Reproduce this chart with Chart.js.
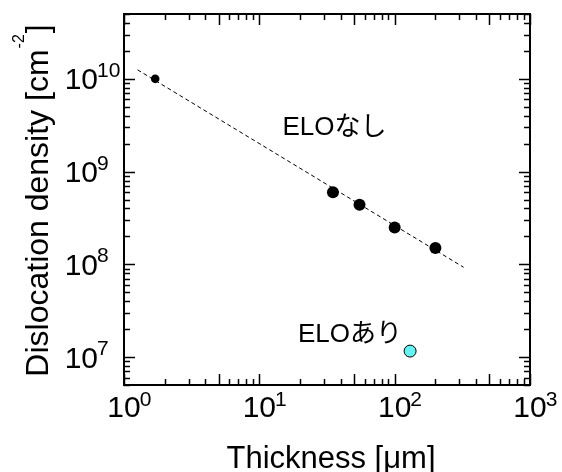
<!DOCTYPE html>
<html><head><meta charset="utf-8">
<script src="https://cdn.jsdelivr.net/npm/chart.js@4/dist/chart.umd.min.js"></script>
<style>html,body{margin:0;padding:0;background:#fff}#wrap{width:562px;height:472px}</style>
</head><body><div id="wrap"><canvas id="c" width="562" height="472"></canvas></div>
<script>
// ---- data ----
const xTickExponents = [0, 1, 2, 3];
const yTickExponents = [7, 8, 9, 10];
const thicknessNoELO = [1.7, 35, 55, 100, 200];
const densityNoELO = [1.0e10, 6.0e8, 4.4e8, 2.5e8, 1.5e8];
const thicknessELO = [130];
const densityELO = [1.16e7];
const fitThickness = [1.26, 323];
const fitDensity = [1.25e10, 9.3e7];
const annotationTexts = ['ELOなし', 'ELOあり'];
const annotationX = [14.8, 19.3];
const annotationY = [2.49e9, 1.46e7];
const xTitle = 'Thickness [μm]';
const yTitleMain = 'Dislocation density [cm';
const yTitleSup = '-2';
const yTitleEnd = ']';

const toPts = (xs, ys) => xs.map((v, i) => ({x: v, y: ys[i]}));
const FONT = '"Liberation Sans", Arial, "Noto Sans CJK JP", sans-serif';

const axesPlugin = {
  id: 'customAxes',
  afterDatasetsDraw(chart) {
    const {ctx, chartArea: a, scales: {x, y}} = chart;
    ctx.save();
    ctx.strokeStyle = '#000';
    ctx.fillStyle = '#000';
    ctx.lineWidth = 2;
    ctx.strokeRect(a.left, a.top, a.right - a.left, a.bottom - a.top);
    ctx.lineWidth = 1.5;
    ctx.beginPath();
    // x ticks
    const xe0 = xTickExponents[0], xe1 = xTickExponents[xTickExponents.length - 1];
    for (let e = xe0; e <= xe1; e++) {
      for (let m = 1; m <= 9; m++) {
        const v = m * Math.pow(10, e);
        if (v > Math.pow(10, xe1) + 1e-9) break;
        const px = Math.round(x.getPixelForValue(v)) + 0.5;
        const len = (m === 1 || m === 5) ? 11 : 6;
        ctx.moveTo(px, a.bottom); ctx.lineTo(px, a.bottom - len);
        ctx.moveTo(px, a.top); ctx.lineTo(px, a.top + len);
      }
    }
    // y ticks
    for (let e = yTickExponents[0] - 1; e <= yTickExponents[yTickExponents.length - 1]; e++) {
      for (let m = 1; m <= 9; m++) {
        const v = m * Math.pow(10, e);
        if (v < y.min * 0.999 || v > y.max * 1.001) continue;
        const py = Math.round(y.getPixelForValue(v)) + 0.5;
        const len = (m === 1) ? 11 : 6;
        ctx.moveTo(a.left, py); ctx.lineTo(a.left + len, py);
        ctx.moveTo(a.right, py); ctx.lineTo(a.right - len, py);
      }
    }
    ctx.stroke();

    // x tick labels
    ctx.textBaseline = 'alphabetic';
    xTickExponents.forEach(e => {
      const px = x.getPixelForValue(Math.pow(10, e));
      ctx.font = '30px ' + FONT;
      ctx.textAlign = 'center';
      ctx.fillText('10', px, a.bottom + 32);
      const w = ctx.measureText('10').width;
      ctx.font = '21px ' + FONT;
      ctx.textAlign = 'left';
      ctx.fillText(String(e), px + w / 2 - 1, a.bottom + 21);
    });
    // y tick labels
    yTickExponents.forEach(e => {
      const py = y.getPixelForValue(Math.pow(10, e));
      ctx.font = '30px ' + FONT;
      ctx.textAlign = 'right';
      ctx.fillText('10', a.left - 26, py + 10.5);
      ctx.font = '21px ' + FONT;
      ctx.textAlign = 'left';
      ctx.fillText(String(e), a.left - 27, py - 2);
    });

    // x title
    ctx.font = '31px ' + FONT;
    ctx.textAlign = 'center';
    ctx.fillText(xTitle, (a.left + a.right) / 2 + 4, a.bottom + 83);

    // y title
    ctx.save();
    ctx.translate(48, (a.top + a.bottom) / 2 + 1);
    ctx.rotate(-Math.PI / 2);
    ctx.font = '32px ' + FONT;
    const w1 = ctx.measureText(yTitleMain).width;
    const w3 = ctx.measureText(yTitleEnd).width;
    ctx.font = '16px ' + FONT;
    const w2 = ctx.measureText(yTitleSup).width;
    let sx = -(w1 + w2 + w3 + 2) / 2;
    ctx.textAlign = 'left';
    ctx.font = '32px ' + FONT;
    ctx.fillText(yTitleMain, sx, 0);
    ctx.font = '16px ' + FONT;
    ctx.fillText(yTitleSup, sx + w1 + 1, -24);
    ctx.font = '32px ' + FONT;
    ctx.fillText(yTitleEnd, sx + w1 + w2 + 2, 0);
    ctx.restore();

    // annotations
    ctx.font = '26px ' + FONT;
    ctx.textAlign = 'left';
    annotationTexts.forEach((t, i) => {
      ctx.fillText(t, x.getPixelForValue(annotationX[i]), y.getPixelForValue(annotationY[i]));
    });
    ctx.restore();
  }
};

new Chart(document.getElementById('c'), {
  type: 'scatter',
  data: {
    datasets: [
      {
        type: 'line',
        data: toPts(fitThickness, fitDensity),
        borderColor: '#000',
        borderWidth: 1,
        borderDash: [4, 3],
        pointRadius: 0,
        fill: false,
        order: 3
      },
      {
        data: toPts(thicknessNoELO, densityNoELO),
        backgroundColor: '#000',
        borderColor: '#000',
        borderWidth: 0,
        pointRadius: [4.3, 6, 6, 6, 6],
        order: 2
      },
      {
        data: toPts(thicknessELO, densityELO),
        backgroundColor: '#66f2f2',
        borderColor: '#000',
        borderWidth: 1,
        pointRadius: 6,
        order: 1
      }
    ]
  },
  options: {
    responsive: false,
    animation: false,
    devicePixelRatio: 1,
    layout: {padding: {left: 124, right: 32, top: 14, bottom: 87}},
    plugins: {legend: {display: false}, tooltip: {enabled: false}},
    scales: {
      x: {type: 'logarithmic', min: 1, max: 1000, display: false},
      y: {type: 'logarithmic', min: 5e6, max: 5e10, display: false}
    }
  },
  plugins: [axesPlugin]
});
</script>
</body></html>
